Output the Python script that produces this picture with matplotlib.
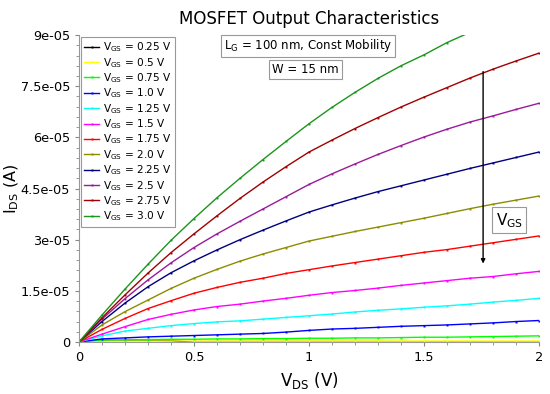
import matplotlib
matplotlib.use("Agg")
import matplotlib.pyplot as plt
from matplotlib.ticker import FuncFormatter, AutoMinorLocator, MultipleLocator

plt.rcParams["mathtext.default"] = "regular"

# drain voltage sweep (V)
vds = [0.0, 0.1, 0.2, 0.3, 0.4, 0.5, 0.6, 0.7, 0.8, 0.9, 1.0,
       1.1, 1.2, 1.3, 1.4, 1.5, 1.6, 1.7, 1.8, 1.9, 2.0]

vgs_labels = ["0.25", "0.5", "0.75", "1.0", "1.25", "1.5",
              "1.75", "2.0", "2.25", "2.5", "2.75", "3.0"]

# drain current, in units of 1e-5 A
ids_025 = [0, 0.05, 0.05, 0.05, 0.04, -0.01, -0.01, -0.01, -0.01, -0.01, -0.01,
           -0.01, -0.01, -0.01, -0.01, -0.01, -0.01, -0.01, -0.01, -0.01, -0.01]
ids_050 = [0, 0.03, 0.03, 0.03, 0.03, 0.03, 0.03, 0.03, 0.03, 0.03, 0.03,
           0.03, 0.03, 0.03, 0.03, 0.03, 0.03, 0.03, 0.03, 0.03, 0.03]
ids_075 = [0, 0.06, 0.07, 0.07, 0.08, 0.08, 0.09, 0.09, 0.10, 0.10, 0.11,
           0.11, 0.12, 0.12, 0.13, 0.14, 0.14, 0.15, 0.16, 0.17, 0.18]
ids_100 = [0, 0.09, 0.12, 0.15, 0.17, 0.19, 0.21, 0.23, 0.25, 0.29, 0.34,
           0.38, 0.40, 0.43, 0.46, 0.48, 0.50, 0.53, 0.56, 0.60, 0.63]
ids_125 = [0, 0.18, 0.32, 0.40, 0.48, 0.54, 0.59, 0.62, 0.67, 0.72, 0.77,
           0.82, 0.88, 0.93, 0.97, 1.02, 1.06, 1.11, 1.17, 1.22, 1.28]
ids_150 = [0, 0.23, 0.45, 0.66, 0.81, 0.94, 1.04, 1.11, 1.20, 1.28, 1.37,
           1.45, 1.51, 1.58, 1.66, 1.73, 1.80, 1.87, 1.92, 2.00, 2.07]
ids_175 = [0, 0.37, 0.69, 0.98, 1.21, 1.43, 1.60, 1.75, 1.87, 2.01, 2.12,
           2.23, 2.33, 2.43, 2.53, 2.63, 2.71, 2.81, 2.91, 3.01, 3.11]
ids_200 = [0, 0.50, 0.89, 1.23, 1.57, 1.87, 2.13, 2.37, 2.58, 2.77, 2.96,
           3.10, 3.24, 3.37, 3.50, 3.63, 3.77, 3.91, 4.04, 4.16, 4.28]
ids_225 = [0, 0.60, 1.14, 1.62, 2.03, 2.38, 2.70, 3.00, 3.28, 3.55, 3.81,
           4.02, 4.22, 4.41, 4.58, 4.75, 4.92, 5.09, 5.25, 5.41, 5.57]
ids_250 = [0, 0.67, 1.27, 1.82, 2.32, 2.77, 3.17, 3.54, 3.90, 4.26, 4.62,
           4.93, 5.22, 5.50, 5.76, 6.01, 6.24, 6.45, 6.63, 6.82, 7.00]
ids_275 = [0, 0.71, 1.38, 2.02, 2.62, 3.17, 3.70, 4.21, 4.69, 5.14, 5.57,
           5.92, 6.26, 6.58, 6.89, 7.18, 7.46, 7.74, 8.00, 8.24, 8.47]
ids_300 = [0, 0.79, 1.55, 2.28, 2.98, 3.62, 4.23, 4.80, 5.35, 5.88, 6.40,
           6.88, 7.32, 7.73, 8.10, 8.42, 8.78, 9.08, 9.33, 9.60, 9.85]

all_ids = [ids_025, ids_050, ids_075, ids_100, ids_125, ids_150,
           ids_175, ids_200, ids_225, ids_250, ids_275, ids_300]

colors = ["#000000", "#ffff00", "#00ff00", "#0000ff", "#00ffff", "#ff00ff",
          "#ff0000", "#8c8c00", "#000080", "#9a1a9a", "#a00000", "#1a961a"]

fig = plt.figure(figsize=(5.5, 3.94), dpi=100)
ax = fig.add_axes([0.1436, 0.132, 0.8364, 0.779])

for ids, lab, col in zip(all_ids, vgs_labels, colors):
    ax.plot(vds, [v * 1e-5 for v in ids], color=col, lw=1.0,
            marker="s", ms=1.4, mew=0, label=r"V$_{GS}$ = " + lab + " V")

ax.set_xlim(0, 2)
ax.set_ylim(0, 9e-5)
ax.xaxis.set_major_locator(MultipleLocator(0.5))
ax.yaxis.set_major_locator(MultipleLocator(1.5e-5))
ax.xaxis.set_minor_locator(AutoMinorLocator(5))
ax.yaxis.set_minor_locator(AutoMinorLocator(5))
fmt = FuncFormatter(lambda v, p: "%g" % v)
ax.xaxis.set_major_formatter(fmt)
ax.yaxis.set_major_formatter(fmt)
ax.tick_params(labelsize=9.3, length=3, color="#888888")
ax.tick_params(which="minor", length=2, color="#888888")

for s in ["top", "right"]:
    ax.spines[s].set_visible(False)
for s in ["left", "bottom"]:
    ax.spines[s].set_color("#999999")

ax.set_xlabel(r"V$_{DS}$ (V)", fontsize=12, labelpad=4)
ax.set_ylabel(r"I$_{DS}$ (A)", fontsize=11.5)
ax.yaxis.set_label_coords(-0.125, 0.5)
ax.set_title("MOSFET Output Characteristics", fontsize=12, pad=8)

leg = ax.legend(loc="upper left", fontsize=7.6, handlelength=1.4,
                handletextpad=0.4, labelspacing=0.15, borderpad=0.3,
                fancybox=False, edgecolor="#999999", framealpha=1,
                borderaxespad=0.2, bbox_to_anchor=(0.0, 1.0))
leg.get_frame().set_linewidth(0.8)

box = dict(boxstyle="square,pad=0.25", fc="white", ec="#999999", lw=0.8)
ax.text(0.995, 8.68e-5, r"L$_G$ = 100 nm, Const Mobility", fontsize=8.5,
        ha="center", va="center", bbox=box)
ax.text(0.985, 8.0e-5, "W = 15 nm", fontsize=8.5, ha="center", va="center", bbox=box)

ax.annotate("", xy=(1.757, 2.3e-5), xytext=(1.757, 7.93e-5),
            arrowprops=dict(arrowstyle="-|>", color="black", lw=1.0,
                            mutation_scale=6, shrinkA=0, shrinkB=0))
ax.text(1.87, 3.57e-5, r"V$_{GS}$", fontsize=11, ha="center", va="center",
        bbox=box)

fig.savefig("out.png", dpi=100)
